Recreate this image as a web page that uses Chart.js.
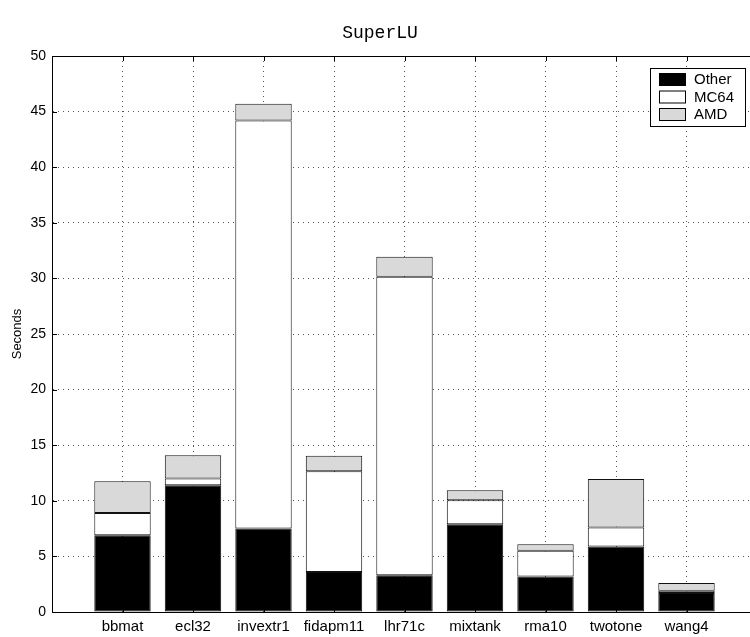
<!DOCTYPE html>
<html>
<head>
<meta charset="utf-8">
<script src="https://cdn.jsdelivr.net/npm/chart.js@4.4.0/dist/chart.umd.min.js"></script>
<style>
    html, body { margin: 0; padding: 0; background: #fff; overflow: hidden; }
    #wrap { width: 760px; height: 637px; }
</style>
</head>
<body>
<div id="wrap"><canvas id="superluChart" width="760" height="637"></canvas></div>
<script>
const matrixNames = ['bbmat', 'ecl32', 'invextr1', 'fidapm11', 'lhr71c', 'mixtank', 'rma10', 'twotone', 'wang4'];
const otherTime = [6.9, 11.4, 7.5, 3.6, 3.3, 7.9, 3.2, 5.9, 1.7];
const mc64Time = [2.0, 0.6, 36.7, 9.05, 26.85, 2.15, 2.3, 1.7, 0.2];
const amdTime = [2.85, 2.1, 1.5, 1.4, 1.8, 0.9, 0.6, 4.35, 0.7];
const yTicks = [0, 5, 10, 15, 20, 25, 30, 35, 40, 45, 50];

const labelFamily = "'Liberation Sans', Arial, sans-serif";

// bars sit at x = 1..9 on a 0..10 axis, like the matlab plot
function toPoints(values) {
    return values.map((v, i) => ({ x: i + 1, y: v }));
}

const decorations = {
    id: 'decorations',
    afterDraw(chart) {
        const ctx = chart.ctx;
        const area = chart.chartArea;
        const xs = chart.scales.x;
        const ys = chart.scales.y;
        ctx.save();

        // top box line
        ctx.strokeStyle = '#000';
        ctx.lineWidth = 1;
        ctx.beginPath();
        ctx.moveTo(area.left, area.top + 0.5);
        ctx.lineTo(area.right, area.top + 0.5);
        ctx.stroke();

        // inward tick marks
        ctx.beginPath();
        matrixNames.forEach((n, i) => {
            const px = Math.round(xs.getPixelForValue(i + 1)) + 0.5;
            ctx.moveTo(px, area.top);
            ctx.lineTo(px, area.top + 5);
            ctx.moveTo(px, area.bottom);
            ctx.lineTo(px, area.bottom - 5);
        });
        yTicks.forEach(v => {
            const py = Math.round(ys.getPixelForValue(v)) + 0.5;
            ctx.moveTo(area.left, py);
            ctx.lineTo(area.left + 5, py);
        });
        ctx.stroke();

        // title
        ctx.fillStyle = '#000';
        ctx.font = "18px 'Liberation Mono', 'DejaVu Sans Mono', monospace";
        ctx.textAlign = 'center';
        ctx.textBaseline = 'middle';
        ctx.fillText('SuperLU', 380, 33);

        // y axis title
        ctx.font = "13px " + labelFamily;
        ctx.translate(17, (area.top + area.bottom) / 2);
        ctx.rotate(-Math.PI / 2);
        ctx.fillText('Seconds', 0, 0);
        ctx.setTransform(1, 0, 0, 1, 0, 0);

        // legend box
        const lx = 650, ly = 68, lw = 95, lh = 58;
        ctx.fillStyle = '#fff';
        ctx.fillRect(lx, ly, lw, lh);
        ctx.strokeStyle = '#000';
        ctx.strokeRect(lx + 0.5, ly + 0.5, lw, lh);
        ctx.font = "15px " + labelFamily;
        ctx.textAlign = 'left';
        chart.data.datasets.forEach((ds, i) => {
            const cy = 79 + i * 17.5;
            ctx.fillStyle = ds.backgroundColor;
            ctx.fillRect(659, cy - 6, 27, 13);
            ctx.strokeStyle = '#000';
            ctx.strokeRect(659.5, cy - 5.5, 26, 12);
            ctx.fillStyle = '#000';
            ctx.fillText(ds.label, 694, cy + 1);
        });
        ctx.restore();
    }
};

const ctx = document.getElementById('superluChart');
const data = {
    datasets: [
        { label: 'Other', data: toPoints(otherTime), backgroundColor: '#000000' },
        { label: 'MC64', data: toPoints(mc64Time), backgroundColor: '#ffffff' },
        { label: 'AMD', data: toPoints(amdTime), backgroundColor: '#d9d9d9' }
    ]
};
const config = {
    type: 'bar',
    data: data,
    options: {
        responsive: false,
        animation: false,
        devicePixelRatio: 1,
        layout: { padding: { top: 56, right: 3, left: 0, bottom: 0 } },
        datasets: {
            bar: {
                borderColor: '#111',
                borderWidth: 1,
                borderSkipped: false,
                barPercentage: 0.8,
                categoryPercentage: 1
            }
        },
        plugins: {
            legend: { display: false },
            tooltip: { enabled: false }
        },
        scales: {
            x: {
                type: 'linear',
                stacked: true,
                offset: false,
                min: 0,
                max: 10,
                afterFit(scale) { scale.height = 25; },
                afterBuildTicks(scale) {
                    scale.ticks = matrixNames.map((n, i) => ({ value: i + 1 }));
                },
                ticks: {
                    font: { family: labelFamily, size: 15 },
                    color: '#000',
                    padding: 6,
                    maxRotation: 0,
                    autoSkip: false,
                    callback: (v) => matrixNames[v - 1] || ''
                },
                grid: {
                    color: '#555',
                    lineWidth: 1,
                    offset: false,
                    drawTicks: false
                },
                border: { color: '#000', width: 1, dash: [1, 4] }
            },
            y: {
                stacked: true,
                min: 0,
                max: 50,
                afterFit(scale) { scale.width = 52; },
                afterBuildTicks(scale) {
                    scale.ticks = yTicks.map(v => ({ value: v }));
                },
                ticks: {
                    font: { family: labelFamily, size: 14 },
                    color: '#000',
                    padding: 6
                },
                grid: {
                    color: '#555',
                    lineWidth: 1,
                    drawTicks: false
                },
                border: { color: '#000', width: 1, dash: [1, 4] }
            }
        }
    },
    plugins: [decorations]
};
const superluChart = new Chart(ctx, config);
</script>
</body>
</html>
